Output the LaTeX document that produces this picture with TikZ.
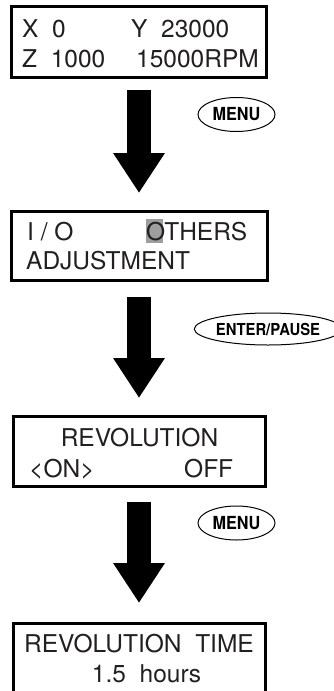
\documentclass[tikz,border=0pt]{standalone}
\usepackage{fontspec}
\setmainfont{TeX Gyre Heros}
\newfontfamily\keyfont[FakeStretch=0.9]{TeX Gyre Heros}
\usetikzlibrary{arrows.meta,shapes.geometric}
\definecolor{lcdink}{HTML}{231F20}
\begin{document}
\begin{tikzpicture}[x=1pt, y=-1pt, inner sep=0pt,
    disp/.style={draw, line width=3pt, minimum width=254pt, minimum height=70pt},
    txt/.style={anchor=base west, text=lcdink, font=\fontsize{24.5}{24}\selectfont},
    ctxt/.style={txt, anchor=base},
    key/.style={draw, ellipse, line width=1pt, minimum width=77pt, minimum height=34pt,
      font=\keyfont\fontsize{18}{18}\selectfont\bfseries},
    down/.style={line width=24pt, -{Triangle[width=49pt, length=40pt]}}]
   \useasboundingbox (0,0) rectangle (334,691);
   \node[disp, minimum width=255pt, minimum height=71pt] (D1) at (139,42) {};
   \node[disp, minimum width=256pt, minimum height=69pt] (D2) at (139,246) {};
   \node[disp, minimum width=252pt] (D3) at (139,451.5) {};
   \node[disp, minimum width=252pt] (D4) at (139,658.5) {};
   \node[txt] (x) at (22,37) {X\ \ 0};
   \node[txt] (y) at (131,37) {Y\ \ 23000};
   \node[txt] (z) at (22,67) {Z\ \ 1000};
   \node[txt] (rpm) at (136,67) {15000RPM};
   \fill[black!38] (146,219) rectangle (163,243);
   \node[txt] (io) at (27,240) {I / O};
   \node[txt] (oth) at (146,240) {OTHERS};
   \node[txt] (adj) at (26,269) {ADJUSTMENT};
   \node[ctxt] (rev) at (139.5,446) {REVOLUTION};
   \node[txt] (on) at (29,477) {\textless ON\textgreater};
   \node[txt] (off) at (184,477) {OFF};
   \node[ctxt] (revt) at (139,652) {REVOLUTION\ \ TIME};
   \node[ctxt] (hrs) at (146.5,682) {1.5\ \ hours};
   \draw[down, shorten <=11pt, shorten >=17pt] (D1.south) -- (D2.north);
   \draw[down, shorten <=15pt, shorten >=17pt] (D2.south) -- (D3.north);
   \draw[down, shorten <=14pt, shorten >=19pt] (D3.south) -- (D4.north);
   \node[key] (k1) at (236.5,114.5) {MENU};
   \node[key, minimum width=129pt, minimum height=32pt, font=\keyfont\fontsize{16.5}{16.5}\selectfont\bfseries] (k2) at (268,329) {ENTER/PAUSE};
   \node[key] (k3) at (236.5,523) {MENU};
\end{tikzpicture}
\end{document}
